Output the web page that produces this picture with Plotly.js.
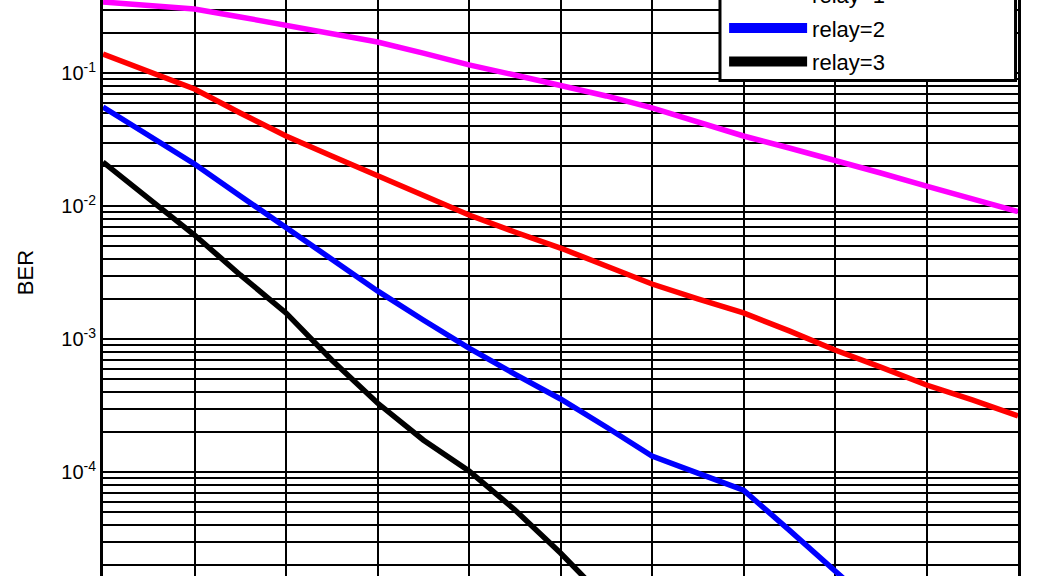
<!DOCTYPE html>
<html>
<head>
<meta charset="utf-8">
<script src="https://cdn.plot.ly/plotly-3.0.1.min.js"></script>
<style>
  html, body { margin: 0; padding: 0; background: #ffffff; overflow: hidden; }
  body { width: 1038px; height: 576px; position: relative; }
  #chart { position: absolute; left: 0; top: -100px; width: 1038px; height: 760px; }
</style>
</head>
<body>
<div id="chart"></div>
<script>
// SNR (dB) sample points
const snr = [0,1,2,3,4,5,6,7,8,9,10,11,12,13,14,15,16,17,18,19,20];

// Series names
const seriesNames = ["relay=0", "relay=1", "relay=2", "relay=3"];

// BER values
const berRelay0 = [0.342,0.322,0.303,0.264,0.227,0.196,0.171,0.141,0.115,0.0966,0.0812,0.0672,0.0546,0.0428,0.0336,0.0273,0.0222,0.0177,0.0141,0.0113,0.00906];
const berRelay1 = [0.139,0.1035,0.0758,0.050,0.0336,0.0238,0.0168,0.0121,0.00855,0.00638,0.00483,0.00354,0.00259,0.0020,0.00157,0.00115,0.000826,0.000615,0.000451,0.000348,0.000264];
const berRelay2 = [0.0555,0.0342,0.0207,0.0119,0.00684,0.0040,0.0023,0.00139,0.000855,0.000545,0.000354,0.000218,0.000132,0.000098,0.000073,0.0000366,0.0000180,0.0000089,0.0000046,0.0000023,0.0000012];
const berRelay3 = [0.0214,0.0113,0.00605,0.00303,0.00157,0.000695,0.000330,0.000174,0.000102,0.000052,0.0000246,0.0000109,0.0000046];

// y tick labels (decades)
const yMajorVals = [1e-5, 1e-4, 1e-3, 1e-2, 1e-1, 1];
const yMajorLabels = ["10<sup>-5</sup>","10<sup>-4</sup>","10<sup>-3</sup>","10<sup>-2</sup>","10<sup>-1</sup>","10<sup>0</sup>"];
const xTicks = [0,2,4,6,8,10,12,14,16,18,20];

const colors = ["#ff00ff", "#ff0000", "#0000ff", "#000000"];
const allSeries = [berRelay0, berRelay1, berRelay2, berRelay3];

// minor log grid values (2..9 in each decade)
const yMinorVals = [];
for (let e = -5; e < 0; e++) {
  for (let m = 2; m <= 9; m++) yMinorVals.push(m * Math.pow(10, e));
}

const traces = [];
allSeries.forEach((ys, i) => {
  traces.push({
    x: snr.slice(0, ys.length), y: ys, type: "scatter", mode: "lines",
    name: seriesNames[i], showlegend: false, legendgroup: "g" + i,
    line: { color: colors[i], width: 5.5 }
  });
});
// legend entries (thicker sample lines, no data drawn)
allSeries.forEach((ys, i) => {
  traces.push({
    x: [null], y: [null], type: "scatter", mode: "lines",
    name: seriesNames[i], showlegend: true, legendgroup: "g" + i,
    line: { color: colors[i], width: 10 }
  });
});

const font = { family: "Liberation Sans, Arial, Helvetica, sans-serif", color: "#000000", size: 20 };
const bigFont = { family: "Liberation Sans, Arial, Helvetica, sans-serif", color: "#000000", size: 22 };

const layout = {
  width: 1038, height: 760,
  margin: { l: 103, r: 20, t: 40, b: 55 },
  paper_bgcolor: "#ffffff", plot_bgcolor: "#ffffff",
  font: font,
  showlegend: true,
  legend: {
    x: 0.6788, xanchor: "left", y: 0.785, yanchor: "bottom",
    bgcolor: "rgba(0,0,0,0)", borderwidth: 0,
    font: bigFont, tracegroupgap: 2, itemwidth: 78
  },
  // legend frame (MATLAB-style wide box)
  shapes: [{
    type: "rect", xref: "paper", yref: "paper",
    x0: 0.6743, x1: 0.9973, y0: 0.7887, y1: 1.2,
    line: { color: "#000000", width: 3 }, fillcolor: "#ffffff", layer: "above"
  }],
  xaxis: {
    range: [0, 20], tickvals: xTicks, ticks: "",
    showgrid: true, gridcolor: "#000000", gridwidth: 2,
    showline: true, linecolor: "#000000",
    linewidth: 3, mirror: true, zeroline: false, tickfont: font,
    title: { text: "SNR (dB)", font: bigFont }
  },
  yaxis: {
    type: "log", range: [-5, 0], tickmode: "array", tickvals: yMajorVals, ticktext: yMajorLabels,
    ticks: "", showgrid: true, gridcolor: "#000000", gridwidth: 2,
    minor: { tickmode: "array", tickvals: yMinorVals, showgrid: true, gridcolor: "#000000", gridwidth: 2, ticks: "" },
    showline: true, linecolor: "#000000", linewidth: 3, mirror: true,
    zeroline: false, tickfont: font,
    title: { text: "BER", font: bigFont, standoff: 22 }
  }
};

Plotly.newPlot("chart", traces, layout, { displayModeBar: false, staticPlot: true });
</script>
</body>
</html>
